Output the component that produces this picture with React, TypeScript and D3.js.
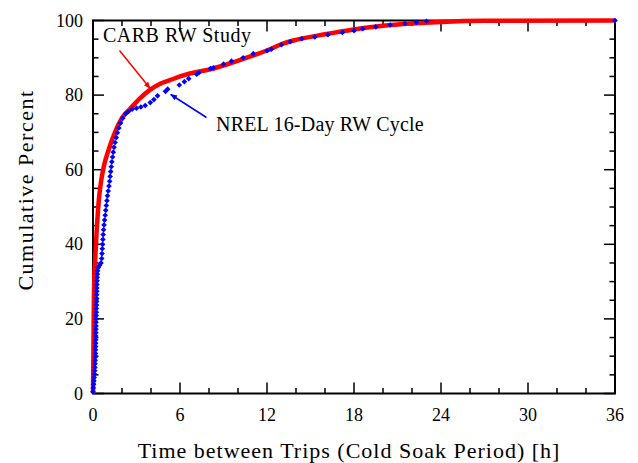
import React from "react";
import * as d3 from "d3";

const W = 638;
const H = 463;

const xTicksMajor = [0, 6, 12, 18, 24, 30, 36];
const yTicksMajor = [0, 20, 40, 60, 80, 100];

const carbHours = [0, 0.03, 0.06, 0.09, 0.14, 0.25, 0.41, 0.55, 0.76, 1.1, 1.52, 2.02, 2.55, 3.2, 3.93, 4.6, 5.31, 6.0, 6.69, 8.07, 9.45, 10.8, 12.2, 12.9, 14, 16, 18, 20, 22, 24, 27, 36];
const carbPct = [0, 12, 25, 31, 35, 43.3, 52.2, 56.7, 61.1, 65.6, 70.1, 74.0, 76.3, 79.0, 81.4, 83.0, 84.0, 85.0, 85.8, 86.9, 88.5, 90.3, 92.3, 93.5, 94.8, 96.3, 97.6, 98.6, 99.2, 99.6, 99.9, 100];

const nrelHours = [
  0.0, 0.02, 0.04, 0.06, 0.08, 0.1, 0.12, 0.13, 0.14, 0.15, 0.16, 0.17, 0.17, 0.18, 0.18, 0.19, 0.19, 0.2, 0.2, 0.21,
  0.21, 0.22, 0.22, 0.23, 0.23, 0.24, 0.24, 0.25, 0.25, 0.26, 0.26, 0.27, 0.28, 0.29, 0.3, 0.32, 0.36, 0.45, 0.55, 0.6,
  0.62, 0.64, 0.66, 0.68, 0.7, 0.73, 0.76, 0.8, 0.84, 0.88, 0.92, 0.96, 1.0, 1.05, 1.1, 1.15, 1.18, 1.22, 1.26, 1.3,
  1.35, 1.4, 1.45, 1.52, 1.6, 1.68, 1.78, 1.9, 2.05, 2.25, 2.45, 2.7, 3.0, 3.3, 3.6, 3.95, 4.2, 4.45, 5.0, 5.15,
  5.95, 6.3, 6.6, 7.15, 7.3, 8.1, 8.3, 9.0, 9.55, 10.35, 11.05, 12.0, 12.3, 13.0, 13.6, 14.4, 15.3, 16.2, 17.2, 18.0,
  18.6, 19.5, 20.5, 21.5, 22.3, 23.0, 36
];
const nrelPct = [
  0.5, 1.5, 2.5, 3.4, 4.3, 5.2, 6.1, 7.0, 8.0, 8.9, 9.8, 10.7, 11.7, 12.6, 13.5, 14.4, 15.4, 16.3, 17.2, 18.1,
  19.1, 20.0, 20.9, 21.8, 22.8, 23.7, 24.6, 25.5, 26.5, 27.4, 28.3, 29.2, 30.2, 31.1, 32.0, 32.9, 33.8, 34.4, 35.0, 36.2,
  37.5, 38.8, 40.0, 41.3, 42.6, 43.9, 45.2, 46.5, 47.8, 49.1, 50.4, 51.7, 53.0, 54.3, 55.6, 56.9, 58.2, 59.5, 60.8, 62.1,
  63.4, 64.7, 66.0, 67.3, 68.6, 69.9, 71.2, 72.5, 73.8, 75.0, 75.6, 76.2, 76.5, 76.8, 77.2, 78.0, 78.8, 79.8, 81.0, 81.6,
  82.7, 83.6, 84.4, 85.6, 86.0, 87.1, 87.3, 88.3, 89.1, 90.0, 91.1, 91.9, 92.3, 93.5, 94.3, 95.1, 95.6, 96.2, 96.8, 97.3,
  97.8, 98.3, 98.8, 99.2, 99.5, 99.8, 100
];

const xLabel = "Time between Trips (Cold Soak Period) [h]";
const yLabel = "Cumulative Percent";
const carbLabel = "CARB RW Study";
const nrelLabel = "NREL 16-Day RW Cycle";

const FONT = "'Liberation Serif', 'Times New Roman', serif";

export default function App() {
  const left = 93, right = 615, top = 20.5, bottom = 393.5;
  const x = d3.scaleLinear().domain([0, 36]).range([left, right]);
  const y = d3.scaleLinear().domain([0, 100]).range([bottom, top]);

  const xMinor = d3.range(0, 36.01, 2).filter((v) => v % 6 !== 0);
  const yMinor = d3.range(0, 100.01, 5).filter((v) => v % 20 !== 0);

  const carbData = carbHours.map((h, i) => [h, carbPct[i]] as [number, number]);
  const line = d3
    .line<[number, number]>()
    .x((d) => x(d[0]))
    .y((d) => y(d[1]))
    .curve(d3.curveMonotoneX);

  const major = 11, minor = 5.5;

  return (
    <svg width={W} height={H} style={{ position: "absolute", left: 0, top: 0, background: "#fff" }} fontFamily={FONT}>
      <defs>
        <marker id="arrRed" viewBox="0 0 10 10" refX="9" refY="5" markerWidth="7" markerHeight="7" orient="auto" markerUnits="userSpaceOnUse">
          <path d="M0,1 L10,5 L0,9 z" fill="#ff0000" />
        </marker>
        <marker id="arrBlue" viewBox="0 0 10 10" refX="9" refY="5" markerWidth="7" markerHeight="7" orient="auto" markerUnits="userSpaceOnUse">
          <path d="M0,1 L10,5 L0,9 z" fill="#0000ff" />
        </marker>
      </defs>
      {/* frame */}
      <rect x={left} y={top} width={right - left} height={bottom - top} fill="none" stroke="#000" strokeWidth={2} />
      {/* x ticks */}
      {xTicksMajor.map((v) => (
        <g key={"xm" + v}>
          <line x1={x(v)} x2={x(v)} y1={bottom} y2={bottom - major} stroke="#000" strokeWidth={1.5} />
          <line x1={x(v)} x2={x(v)} y1={top} y2={top + major} stroke="#000" strokeWidth={1.5} />
          <text x={x(v)} y={421} textAnchor="middle" fontSize={18} fill="#000">{v}</text>
        </g>
      ))}
      {xMinor.map((v) => (
        <g key={"xn" + v}>
          <line x1={x(v)} x2={x(v)} y1={bottom} y2={bottom - minor} stroke="#000" strokeWidth={1.5} />
          <line x1={x(v)} x2={x(v)} y1={top} y2={top + minor} stroke="#000" strokeWidth={1.5} />
        </g>
      ))}
      {/* y ticks */}
      {yTicksMajor.map((v) => (
        <g key={"ym" + v}>
          <line x1={left} x2={left + major} y1={y(v)} y2={y(v)} stroke="#000" strokeWidth={1.5} />
          <line x1={right} x2={right - major} y1={y(v)} y2={y(v)} stroke="#000" strokeWidth={1.5} />
          <text x={83} y={y(v) + 6} textAnchor="end" fontSize={18} fill="#000">{v}</text>
        </g>
      ))}
      {yMinor.map((v) => (
        <g key={"yn" + v}>
          <line x1={left} x2={left + minor} y1={y(v)} y2={y(v)} stroke="#000" strokeWidth={1.5} />
          <line x1={right} x2={right - minor} y1={y(v)} y2={y(v)} stroke="#000" strokeWidth={1.5} />
        </g>
      ))}
      {/* axis titles */}
      <text x={349} y={458} textAnchor="middle" fontSize={22} letterSpacing={1} fill="#000">{xLabel}</text>
      <text transform={`translate(33,190) rotate(-90)`} textAnchor="middle" fontSize={22} letterSpacing={1.5} fill="#000">{yLabel}</text>

      {/* CARB curve */}
      <path d={line(carbData) || ""} fill="none" stroke="#ff0000" strokeWidth={4.5} strokeLinejoin="round" />
      {/* NREL points */}
      {nrelHours.map((h, i) => (
        <rect key={"n" + i} x={x(h) - 2} y={y(nrelPct[i]) - 2} width={4} height={4} fill="#0000ff"
          transform={`rotate(45 ${x(h)} ${y(nrelPct[i])})`} />
      ))}

      {/* annotations */}
      <text x={103} y={42} fontSize={20} letterSpacing={0.5} fill="#000">{carbLabel}</text>
      <line x1={119.5} y1={50.5} x2={150} y2={88.3} stroke="#ff0000" strokeWidth={1.5} markerEnd="url(#arrRed)" />
      <text x={216} y={131} fontSize={20} letterSpacing={0.2} fill="#000">{nrelLabel}</text>
      <line x1={206.5} y1={117.5} x2={170.7} y2={94.5} stroke="#0000ff" strokeWidth={1.5} markerEnd="url(#arrBlue)" />
    </svg>
  );
}
